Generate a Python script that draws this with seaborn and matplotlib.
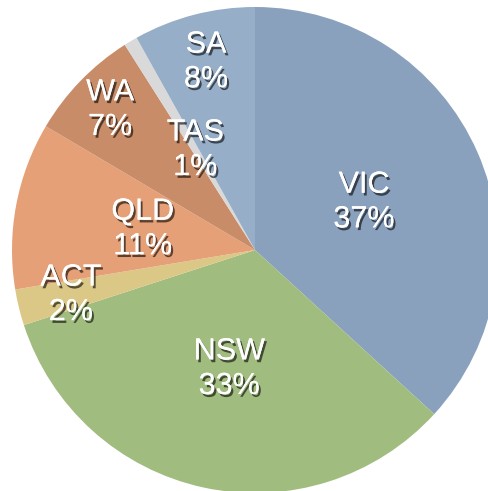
import numpy as np
import matplotlib
matplotlib.use('Agg')
import matplotlib.pyplot as plt
import matplotlib.patheffects as pe
import seaborn as sns

# share of each state, clockwise from the top
states = ['VIC', 'NSW', 'ACT', 'QLD', 'WA', 'TAS', 'SA']
shares = [36.8, 33.2, 2.4, 11.1, 7.5, 0.9, 8.1]
pct_labels = ['37%', '33%', '2%', '11%', '7%', '1%', '8%']

colors = ['#8aa1bd', '#a0bc7f', '#dcc886', '#e5a077', '#c98c68', '#d9d9d9', '#96aec8']
label_radius = [0.49, 0.50, 0.78, 0.47, 0.83, 0.48, 0.80]

sns.set_theme(style='white')
plt.rcParams['font.family'] = ['Liberation Sans', 'DejaVu Sans']

fig = plt.figure(figsize=(4.89, 4.91), dpi=100)
ax = fig.add_axes([0, 0, 1, 1])

wedges, _ = ax.pie(shares, colors=colors, startangle=90, counterclock=False,
                   radius=1.0, wedgeprops=dict(linewidth=0))

shadow = [pe.withSimplePatchShadow(offset=(1.5, -2), shadow_rgbFace='black', alpha=0.6),
          pe.Normal()]
for w, name, pct, r in zip(wedges, states, pct_labels, label_radius):
    mid = np.deg2rad((w.theta1 + w.theta2) / 2)
    ax.text(r * np.cos(mid), r * np.sin(mid), f'{name}\n{pct}',
            ha='center', va='center', color='white', fontsize=22,
            linespacing=1.2, path_effects=shadow)

ax.set_aspect('auto')
ax.set_xlim(-255 / 243, (489 - 255) / 243)
ax.set_ylim(-(491 - 250) / 243, 250 / 243)
ax.axis('off')

fig.savefig('out.png', dpi=100)
